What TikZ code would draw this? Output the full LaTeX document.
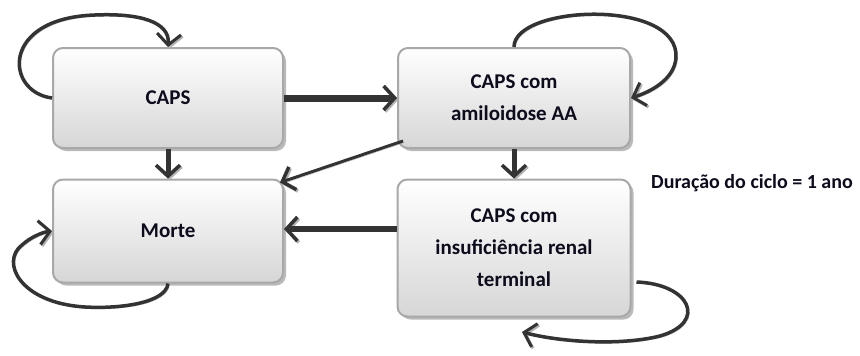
\documentclass[tikz,border=0pt]{standalone}
\usepackage{fontspec}
\setmainfont{Carlito}
\usetikzlibrary{arrows.meta,shadows,calc}
\definecolor{arrc}{HTML}{333333}
\definecolor{bord}{HTML}{A8A8A8}
\definecolor{txt}{HTML}{0C0C1C}
\tikzset{
  box/.style={draw=bord, line width=2pt, rounded corners=10pt,
    top color=white, bottom color=black!16,
    drop shadow={shadow xshift=3pt,shadow yshift=-3pt,fill=black!45,opacity=0.6},
    inner sep=0pt, align=center, text=txt,
    font=\bfseries\fontsize{21}{32}\selectfont},
  shad/.style={preaction={draw=black!30, transform canvas={shift={(1.5pt,-1.5pt)}}}},
  conn/.style={draw=arrc, line cap=butt, shad,
    -{Straight Barb[length=11pt,width=24pt,line width=3.5pt]}},
  loopc/.style={draw=arrc, line width=3.5pt, shad,
    -{Straight Barb[length=11pt,width=24pt,line width=3pt]}}
}
\begin{document}
\begin{tikzpicture}[x=1pt,y=-1pt]
\useasboundingbox (0,0) rectangle (860,356);
\node[box, minimum width=230pt, minimum height=100pt] (caps) at (168,98) {CAPS};
\node[box, minimum width=232pt, minimum height=100pt] (amil) at (514,98) {CAPS com\\amiloidose AA};
\node[box, minimum width=230pt, minimum height=103pt] (morte) at (168,231) {Morte};
\node[box, minimum width=233pt, minimum height=137pt] (insuf) at (514,248) {CAPS com\\insuficiência renal\\terminal};
\node[font=\bfseries\fontsize{20}{24}\selectfont, text=txt, anchor=west, inner sep=0pt] (dur) at (651,183) {Duração do ciclo = 1 ano};

\draw[conn, line width=7pt] (caps.east) -- (amil.west);
\draw[conn, line width=5pt] (caps.south) -- (morte.north);
\draw[conn, line width=5pt] (amil.south) -- (insuf.north);
\draw[conn, line width=3pt] ([shift={(6,-8)}]amil.south west) -- ([shift={(-4,4)}]morte.north east);
\coordinate (s) at ([yshift=19pt]insuf.west);
\draw[conn, line width=6pt] (s) -- (s -| morte.east);

\draw[loopc] (caps.west) .. controls (5,92) and (0,18) .. (95,15) .. controls (140,13) and (170,22) .. (caps.north);
\draw[loopc] (amil.north) .. controls (514,5) and (680,-2) .. (676,58) .. controls (674,80) and (650,92) .. (amil.east);
\draw[loopc] (morte.south) .. controls (166,303) and (120,309) .. (85,307) .. controls (20,303) and (0,262) .. (22,245) .. controls (32,236) and (44,232) .. (morte.west);
\coordinate (e) at (522,332);
\draw[loopc] ([shift={(5,34)}]insuf.east) .. controls (690,284) and (708,322) .. (660,336) .. controls (620,346) and (560,342) .. (e);
\end{tikzpicture}
\end{document}
